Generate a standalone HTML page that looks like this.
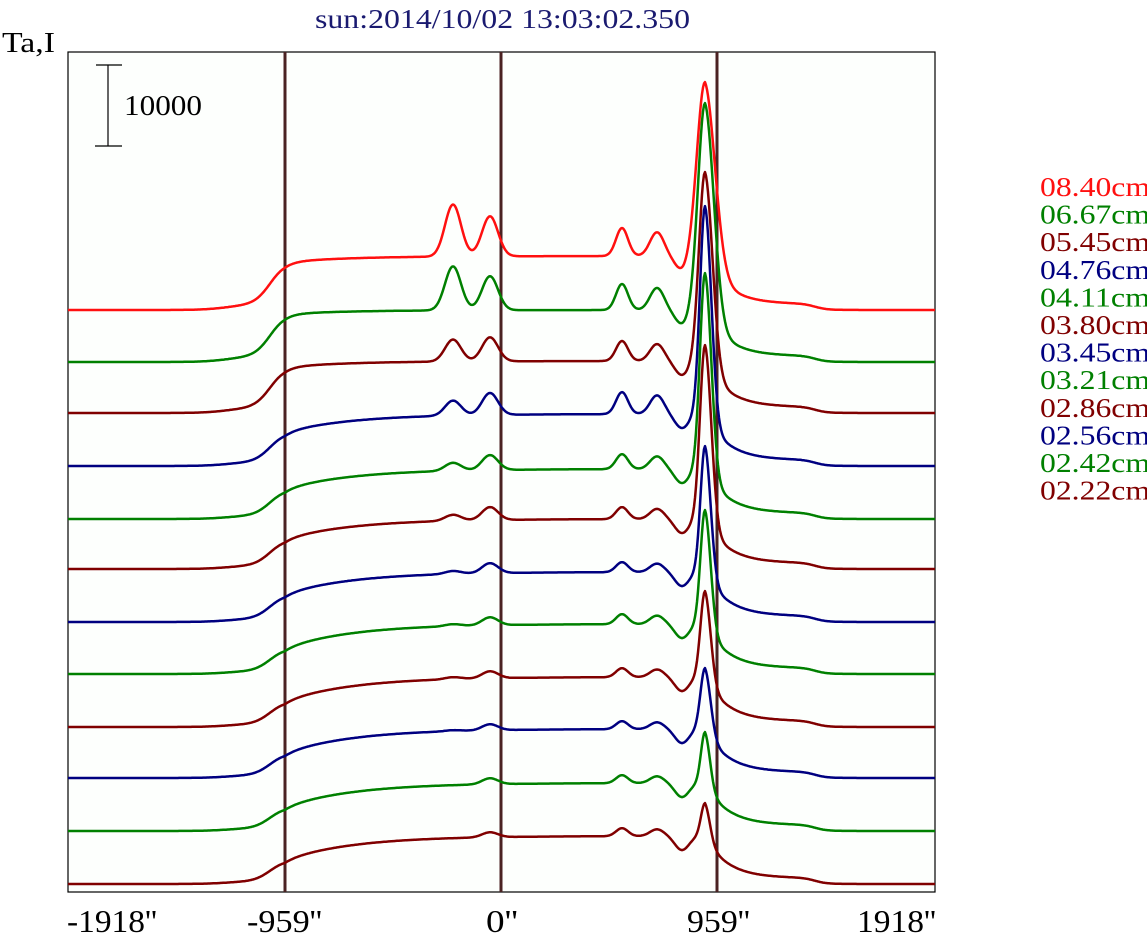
<!DOCTYPE html>
<html><head><meta charset="utf-8"><style>
html,body{margin:0;padding:0;background:#fff;}
svg{display:block;}
text{font-family:"Liberation Serif",serif;}
</style></head><body>
<svg id="s" width="1147" height="941" xmlns="http://www.w3.org/2000/svg">
<rect x="0" y="0" width="1147" height="941" fill="#fff"/>
<rect x="68" y="52" width="867" height="840" fill="#fdfffd" stroke="#000" stroke-width="1.2"/>
<line x1="285" y1="52" x2="285" y2="892" stroke="#4a2222" stroke-width="3"/>
<line x1="501" y1="52" x2="501" y2="892" stroke="#4a2222" stroke-width="3"/>
<line x1="717" y1="52" x2="717" y2="892" stroke="#4a2222" stroke-width="3"/>
<g stroke="#000" stroke-width="1.2">
<line x1="108" y1="65" x2="108" y2="146"/><line x1="96" y1="65" x2="122" y2="65"/><line x1="95" y1="146" x2="122" y2="146"/>
</g>
<text x="124" y="115" font-size="28" textLength="78" lengthAdjust="spacingAndGlyphs">10000</text>
<text x="2" y="52" font-size="28" textLength="53" lengthAdjust="spacingAndGlyphs">Ta,I</text>
<text x="315" y="28" font-size="27" fill="#1a1a70" textLength="375" lengthAdjust="spacingAndGlyphs">sun:2014/10/02 13:03:02.350</text>
<g font-size="32">
<text x="67" y="932" textLength="90" lengthAdjust="spacingAndGlyphs">-1918''</text>
<text x="247" y="932" textLength="75" lengthAdjust="spacingAndGlyphs">-959''</text>
<text x="486" y="932" textLength="32" lengthAdjust="spacingAndGlyphs">0''</text>
<text x="687" y="932" textLength="63" lengthAdjust="spacingAndGlyphs">959''</text>
<text x="857" y="932" textLength="79" lengthAdjust="spacingAndGlyphs">1918''</text>
</g>
<g id="tr" fill="none" stroke-width="2.5" stroke-linejoin="round"></g>
<g id="lb" font-size="27"></g>
</svg>
<script>
var P=[
["#ff1010","08.40cm",310,48,54,52,40,28,228,8],
["#008000","06.67cm",362,48,52,44,34,26,259,7],
["#800000","05.45cm",413,46,52,22,24,20,241,6],
["#000080","04.76cm",466,34,52,15,22,22,260,5],
["#008000","04.11cm",519,30,50,8,15,15,246,5],
["#800000","03.80cm",569,30,50,6,13,12,224,5],
["#000080","03.45cm",622,28,50,3,10,10,176,4.5],
["#008000","03.21cm",674,26,50,2,8,10,164,4.5],
["#800000","02.86cm",727,26,50,2,7,9,136,4.5],
["#000080","02.56cm",778,25,49,1,6,8,110,4.5],
["#008000","02.42cm",831,24,48,0,6,8,99,4],
["#800000","02.22cm",884,24,48,0,5,8,81,4]];
function sg(z){return 1/(1+Math.exp(-z));}
function g(x,m,s){return Math.exp(-(x-m)*(x-m)/(2*s*s));}
var tr=document.getElementById('tr'),lb=document.getElementById('lb'),NS="http://www.w3.org/2000/svg";
P.forEach(function(p,i){
 var c=p[0],base=p[2],a=p[3],b=p[4],P1=p[5],P2=p[6],B=p[7],L=p[8],sl=p[9];
 var d="";
 for(var x=68;x<=935;x+=1){
  var xx=Math.min(x,705);
  var t=xx<285?0:1-Math.exp(-(xx-285)/70);
  var pl=a+(b-a)*t;
  var h=pl*sg((xx-270)/8);
  h+=0.1*a*sg((xx-225)/12)*(1-sg((xx-270)/8));
  h+=P1*g(xx,453,8)+P2*g(xx,490,8)+B*g(xx,622,6)+B*0.85*g(xx,657,7);
  h-=14*g(xx,682,7);
  if(x>705){
   var base0=h;
   var foot=6*sg(-(x-815)/6);
   h=(base0-6)*Math.exp(-(x-705)/22)+foot;
   h+=(L-b)*Math.exp(-(x-705)*(x-705)/(2*sl*sl*1.6));
  } else {
   h+=(L-b)*g(x,705,sl);
  }
  var y=base-h;
  d+=(x==68?"M":"L")+x+","+y.toFixed(1);
 }
 var e=document.createElementNS(NS,"path");e.setAttribute("d",d);e.setAttribute("stroke",c);tr.appendChild(e);
 var t2=document.createElementNS(NS,"text");t2.setAttribute("x",1040);t2.setAttribute("y",196+i*27.6);t2.setAttribute("fill",c);
 t2.setAttribute("textLength","110");t2.setAttribute("lengthAdjust","spacingAndGlyphs");t2.textContent=p[1];lb.appendChild(t2);
});
</script>
</body></html>
